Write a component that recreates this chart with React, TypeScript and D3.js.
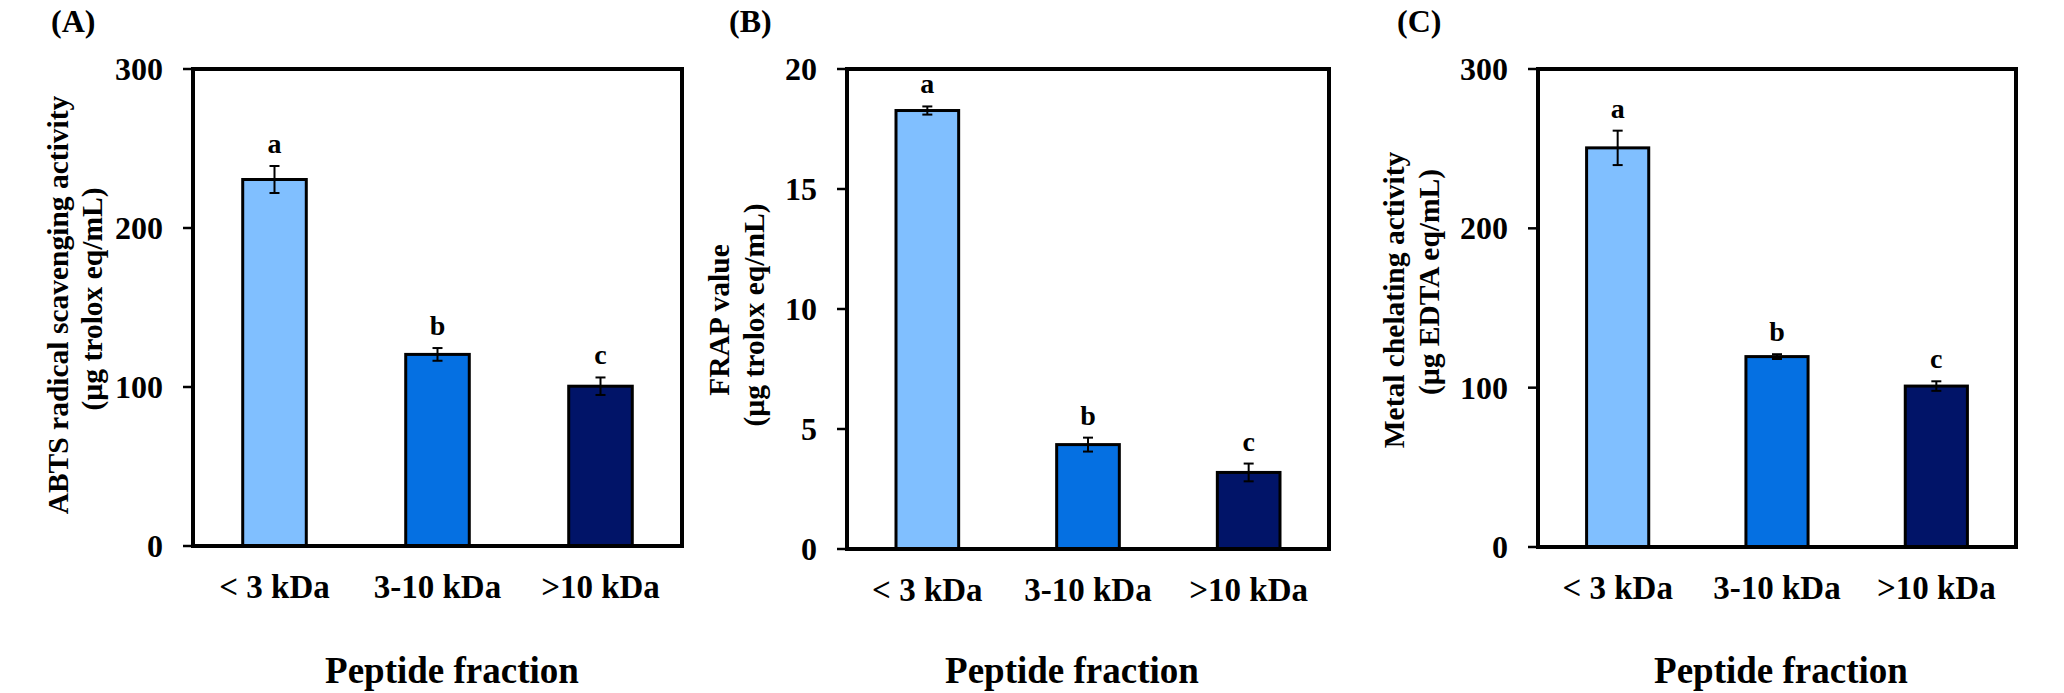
import React from "react";
import * as d3 from "d3";

// ---------- data ----------
const categories = ["< 3 kDa", "3-10 kDa", ">10 kDa"];
const letters = ["a", "b", "c"];
const barColors = ["#80bfff", "#0570e2", "#011468"];

const abtsValues = [230.5, 120.5, 100.5];
const abtsErrors = [8.5, 4, 5.5];
const abtsTicks = [0, 100, 200, 300];

const frapValues = [18.27, 4.35, 3.19];
const frapErrors = [0.17, 0.29, 0.37];
const frapTicks = [0, 5, 10, 15, 20];

const chelValues = [250.5, 119.5, 101];
const chelErrors = [10.8, 1.5, 3];
const chelTicks = [0, 100, 200, 300];

const panelLabels = ["(A)", "(B)", "(C)"];
const yTitles = [
  ["ABTS radical scavenging activity", "(µg trolox eq/mL)"],
  ["FRAP value", "(µg trolox eq/mL)"],
  ["Metal chelating activity", "(µg EDTA eq/mL)"],
];
const xTitle = "Peptide fraction";

// ---------- layout ----------
const FONT = "'Liberation Serif', 'Times New Roman', serif";

const layouts = [
  { left: 193, right: 682, top: 69, bottom: 546, t1: 68, t2: 102, c1: 305, c2: 299, xt: 452, pl: 51 },
  { left: 847, right: 1329, top: 69, bottom: 549, t1: 729, t2: 764, c1: 320, c2: 315, xt: 1072, pl: 729 },
  { left: 1538, right: 2016, top: 69, bottom: 547, t1: 1404, t2: 1439, c1: 300, c2: 282, xt: 1781, pl: 1397 },
];

const panels = [
  { values: abtsValues, errors: abtsErrors, ticks: abtsTicks },
  { values: frapValues, errors: frapErrors, ticks: frapTicks },
  { values: chelValues, errors: chelErrors, ticks: chelTicks },
];

function Panel({ idx }: { idx: number }) {
  const L = layouts[idx];
  const P = panels[idx];
  const yMax = P.ticks[P.ticks.length - 1];
  const x = d3
    .scaleBand<string>()
    .domain(categories)
    .range([L.left, L.right])
    .paddingInner(0.61)
    .paddingOuter(0.305);
  const y = d3.scaleLinear().domain([0, yMax]).range([L.bottom, L.top]);
  const bw = x.bandwidth();

  return (
    <g>
      {/* panel label */}
      <text x={L.pl} y={32} fontSize={32} fontWeight="bold" fontFamily={FONT}>
        {panelLabels[idx]}
      </text>

      {/* bars */}
      {categories.map((c, i) => (
        <rect
          key={c}
          x={x(c)}
          y={y(P.values[i])}
          width={bw}
          height={L.bottom - y(P.values[i])}
          fill={barColors[i]}
          stroke="#000"
          strokeWidth={3}
        />
      ))}

      {/* error bars */}
      {categories.map((c, i) => {
        const cx = (x(c) as number) + bw / 2;
        const y1 = y(P.values[i] + P.errors[i]);
        const y0 = y(P.values[i] - P.errors[i]);
        return (
          <g key={"e" + c} stroke="#000" strokeWidth={2}>
            <line x1={cx} x2={cx} y1={y1} y2={y0} />
            <line x1={cx - 5} x2={cx + 5} y1={y1} y2={y1} />
            <line x1={cx - 5} x2={cx + 5} y1={y0} y2={y0} />
          </g>
        );
      })}

      {/* significance letters */}
      {categories.map((c, i) => (
        <text
          key={"l" + c}
          x={(x(c) as number) + bw / 2}
          y={y(P.values[i] + P.errors[i]) - 13}
          textAnchor="middle"
          fontSize={28}
          fontWeight="bold"
          fontFamily={FONT}
        >
          {letters[i]}
        </text>
      ))}

      {/* frame */}
      <rect
        x={L.left}
        y={L.top}
        width={L.right - L.left}
        height={L.bottom - L.top}
        fill="none"
        stroke="#000"
        strokeWidth={4}
      />

      {/* y ticks */}
      {P.ticks.map((t) => (
        <g key={"t" + t}>
          <line x1={L.left - 10} x2={L.left} y1={y(t)} y2={y(t)} stroke="#000" strokeWidth={2.5} />
          <text
            x={L.left - 30}
            y={y(t) + 11}
            textAnchor="end"
            fontSize={32}
            fontWeight="bold"
            fontFamily={FONT}
          >
            {t}
          </text>
        </g>
      ))}

      {/* x tick labels */}
      {categories.map((c) => (
        <text
          key={"x" + c}
          x={(x(c) as number) + bw / 2}
          y={L.bottom + 52}
          textAnchor="middle"
          fontSize={33}
          fontWeight="bold"
          fontFamily={FONT}
        >
          {c}
        </text>
      ))}

      {/* y title */}
      <text
        transform={`translate(${L.t1},${L.c1}) rotate(-90)`}
        textAnchor="middle"
        fontSize={29.5}
        fontWeight="bold"
        fontFamily={FONT}
      >
        {yTitles[idx][0]}
      </text>
      <text
        transform={`translate(${L.t2},${L.c2}) rotate(-90)`}
        textAnchor="middle"
        fontSize={29.5}
        fontWeight="bold"
        fontFamily={FONT}
      >
        {yTitles[idx][1]}
      </text>

      {/* x title */}
      <text x={L.xt} y={683} textAnchor="middle" fontSize={37} fontWeight="bold" fontFamily={FONT}>
        {xTitle}
      </text>
    </g>
  );
}

export default function App() {
  return (
    <svg
      width={2064}
      height={693}
      style={{ position: "absolute", left: 0, top: 0, background: "#fff" }}
    >
      <rect x={0} y={0} width={2064} height={693} fill="#fff" />
      {[0, 1, 2].map((i) => (
        <Panel key={i} idx={i} />
      ))}
    </svg>
  );
}
